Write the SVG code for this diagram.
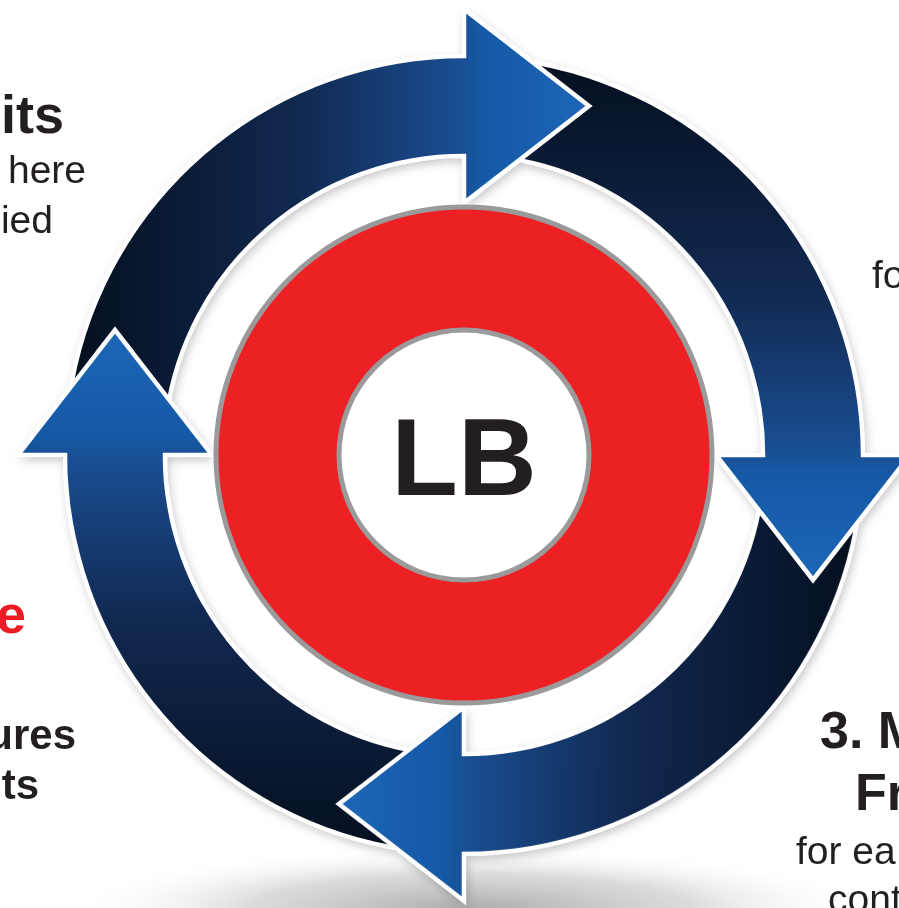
<svg xmlns="http://www.w3.org/2000/svg" xmlns:xlink="http://www.w3.org/1999/xlink" width="899" height="908" viewBox="0 0 899 908">
  <style>
    .title { font-family: "Liberation Sans", Arial, sans-serif; font-weight: bold; fill: #231f20; }
    .body { font-family: "Liberation Sans", Arial, sans-serif; font-weight: normal; fill: #231f20; }
    .red { fill: #ed1c24; }
    .arrow { fill: url(#arrowGrad); stroke: #ffffff; stroke-width: 4.5; stroke-linejoin: miter; }
  </style>
  <defs>
    <linearGradient id="arrowGrad" gradientUnits="userSpaceOnUse" x1="60" y1="0" x2="600" y2="0">
      <stop offset="0" stop-color="#050e1d"/>
      <stop offset="0.1" stop-color="#071428"/>
      <stop offset="0.44" stop-color="#11284f"/>
      <stop offset="0.63" stop-color="#17407a"/>
      <stop offset="0.74" stop-color="#1a4f92"/>
      <stop offset="0.78" stop-color="#1559a6"/>
      <stop offset="1" stop-color="#1e67b9"/>
    </linearGradient>
    <radialGradient id="groundGrad" cx="0.5" cy="0.5" r="0.5">
      <stop offset="0" stop-color="#a8a8a8" stop-opacity="0.95"/>
      <stop offset="0.55" stop-color="#cccccc" stop-opacity="0.7"/>
      <stop offset="1" stop-color="#ffffff" stop-opacity="0"/>
    </radialGradient>
    <filter id="soft" x="-20%" y="-20%" width="140%" height="140%">
      <feGaussianBlur stdDeviation="6"/>
    </filter>
    <path id="arrowShape" d="M68.9,399.5 A399,399 0 0 1 464,56 L464,9 L589,106 L464,203 L464,156 A300,300 0 0 0 166.9,413.2 Z"/>
    <clipPath id="topHeadClip">
      <rect x="467" y="0" width="220" height="260"/>
    </clipPath>
  </defs>

  <rect width="899" height="908" fill="#ffffff"/>

  <g id="ground-shadow">
    <ellipse cx="470" cy="908" rx="400" ry="62" fill="url(#groundGrad)"/>
  </g>

  <g id="arrow-shadows" filter="url(#soft)" opacity="0.28" fill="#000000">
    <use xlink:href="#arrowShape" transform="translate(2,4)"/>
    <use xlink:href="#arrowShape" transform="translate(2,4) rotate(90 464 455)"/>
    <use xlink:href="#arrowShape" transform="translate(2,4) rotate(180 464 455)"/>
    <use xlink:href="#arrowShape" transform="translate(2,4) rotate(270 464 455)"/>
  </g>

  <g id="connectors">
    <use id="arrow-top" class="arrow" xlink:href="#arrowShape"/>
    <use id="arrow-left" class="arrow" xlink:href="#arrowShape" transform="rotate(270 464 455)"/>
    <use id="arrow-bottom" class="arrow" xlink:href="#arrowShape" transform="rotate(180 464 455)"/>
    <use id="arrow-right" class="arrow" xlink:href="#arrowShape" transform="rotate(90 464 455)"/>
    <use id="arrow-top-head" class="arrow" xlink:href="#arrowShape" clip-path="url(#topHeadClip)"/>
  </g>

  <g id="hub">
    <circle cx="464" cy="455" r="248" fill="#ed2024" stroke="#9a9a9a" stroke-width="5"/>
    <circle cx="464" cy="455" r="125" fill="#ffffff" stroke="#9a9a9a" stroke-width="5"/>
    <text class="title" x="464" y="495" font-size="109" text-anchor="middle">LB</text>
  </g>

  <g id="node-1">
    <text class="title" x="64" y="133" font-size="54" text-anchor="end">its</text>
    <text class="body" x="86" y="183" font-size="39" text-anchor="end">here</text>
    <text class="body" x="53" y="233" font-size="39" text-anchor="end">ied</text>
  </g>
  <g id="node-2">
    <text class="body" x="872" y="288" font-size="39">fo</text>
  </g>
  <g id="node-3">
    <text class="title" x="820" y="748" font-size="52">3. M</text>
    <text class="title" x="855" y="810" font-size="52">Fr</text>
    <text class="body" x="796" y="864" font-size="39">for ea</text>
    <text class="body" x="828" y="912" font-size="39">cont</text>
  </g>
  <g id="node-4">
    <text class="title red" x="26" y="633" font-size="54" text-anchor="end">e</text>
    <text class="title" x="76" y="749" font-size="42" text-anchor="end">ures</text>
    <text class="title" x="39" y="799" font-size="42" text-anchor="end">ts</text>
  </g>
</svg>
